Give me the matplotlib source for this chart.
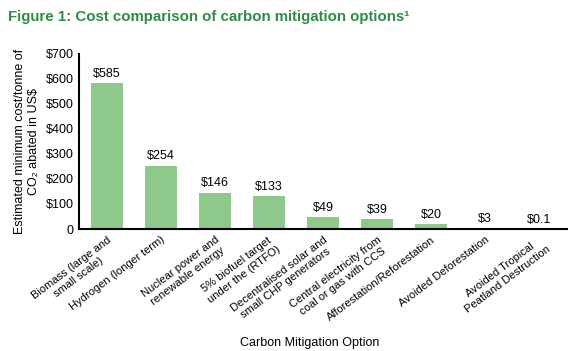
import matplotlib
matplotlib.use("Agg")
import matplotlib.pyplot as plt

categories = [
    "Biomass (large and\nsmall scale)",
    "Hydrogen (longer term)",
    "Nuclear power and\nrenewable energy",
    "5% biofuel target\nunder the (RTFO)",
    "Decentralised solar and\nsmall CHP generators",
    "Central electricity from\ncoal or gas with CCS",
    "Afforestation/Reforestation",
    "Avoided Deforestation",
    "Avoided Tropical\nPeatland Destruction",
]
values = [585, 254, 146, 133, 49, 39, 20, 3, 0.1]
value_labels = ["$585", "$254", "$146", "$133", "$49", "$39", "$20", "$3", "$0.1"]
yticks = [0, 100, 200, 300, 400, 500, 600, 700]
ytick_labels = ["0", "$100", "$200", "$300", "$400", "$500", "$600", "$700"]

plt.rcParams['font.family'] = ['Liberation Sans', 'DejaVu Sans']
plt.rcParams['text.parse_math'] = False

fig = plt.figure(figsize=(5.68, 3.51), dpi=100)
ax = fig.add_axes([79/568, 1 - 229/351, 1 - 79/568, (229-54)/351])

x = list(range(len(categories)))
ax.bar(x, values, width=0.6, color="#8ec98b")
for xi, v, lab in zip(x, values, value_labels):
    ax.text(xi, v + 12, lab, ha="center", va="bottom", fontsize=9)

ax.set_xlim(-0.52, 8.54)
ax.set_ylim(0, 700)
ax.set_yticks(yticks)
ax.set_yticklabels(ytick_labels, fontsize=9)
ax.set_xticks(x)
ax.set_xticklabels(categories, rotation=37, ha="right", rotation_mode="anchor",
                   fontsize=8, multialignment="center")
ax.tick_params(axis="both", length=0, pad=4)
ax.tick_params(axis="x", pad=4)
for s in ["top", "right"]:
    ax.spines[s].set_visible(False)
ax.spines["left"].set_linewidth(1.5)
ax.spines["bottom"].set_linewidth(1.5)

ax.set_ylabel("Estimated minimum cost/tonne of\nCO\u2082 abated in US$", fontsize=9, labelpad=4,
              parse_math=False)
fig.text(310/568, 1 - 343/351, "Carbon Mitigation Option", ha="center", va="center", fontsize=9)
fig.text(8/568, 1 - 17/351, "Figure 1: Cost comparison of carbon mitigation options\u00b9",
         ha="left", va="center", fontsize=10.8, color="#2f8a45", fontweight="bold")

fig.savefig("out.png", dpi=100)
